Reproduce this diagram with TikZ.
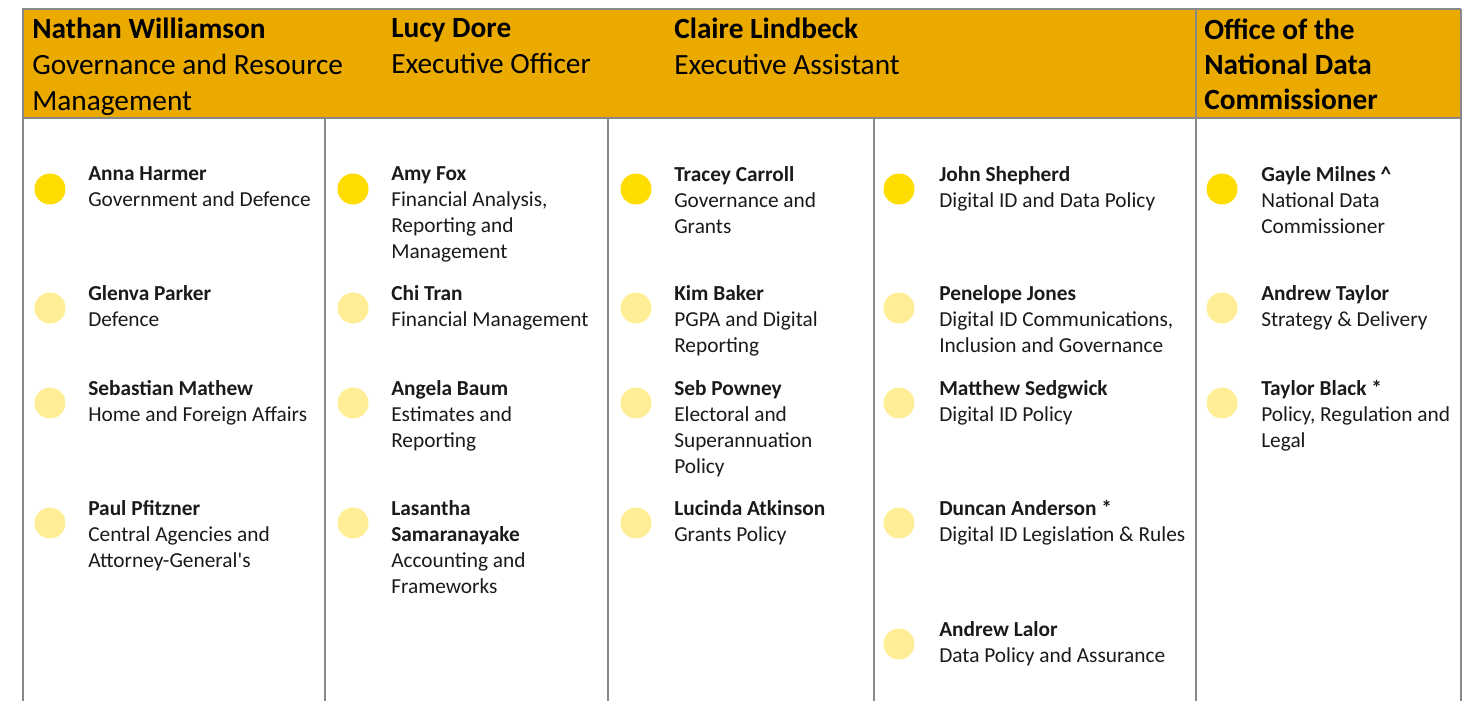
\documentclass[tikz,border=0pt]{standalone}
\usepackage{fontspec}
\setmainfont{Carlito}
\definecolor{hdrgold}{RGB}{234,170,0}
\definecolor{dotbright}{RGB}{255,221,0}
\definecolor{dotpale}{RGB}{255,238,150}
\definecolor{rulegray}{RGB}{136,136,136}
\definecolor{inkgray}{RGB}{26,26,26}

\begin{document}
\begin{tikzpicture}[x=0.75pt, y=-0.75pt,
    lead/.style={circle, fill=dotbright, minimum size=23.25pt, inner sep=0pt},
    staff/.style={circle, fill=dotpale, minimum size=23.25pt, inner sep=0pt},
    entry/.style={anchor=north west, align=left, inner sep=0pt, text=inkgray, font=\fontsize{16}{19.5}\selectfont},
    head/.style={anchor=north west, align=left, inner sep=0pt, font=\fontsize{22}{27}\selectfont},
    rule/.style={draw=rulegray, line width=1.1pt}]
  \useasboundingbox (0,0) rectangle (1471,701);

  % header band and frame
  \fill[hdrgold] (23,9) rectangle (1461,118);
  \draw[rule, line width=1.5pt] (23,701) -- (23,9) -- (1461,9);
  \draw[rule, line width=2pt] (1461,9) -- (1461,701);
  \draw[rule] (23,118) -- (1461,118);
  \draw[rule, line width=1.6pt] (1196,9) -- (1196,613);
  \draw[rule] (1196,613) -- (1196,701);
  \draw[rule] (325,118) -- (325,701);
  \draw[rule] (608,118) -- (608,701);
  \draw[rule] (874,118) -- (874,701);

  % header
  \node[head] (hdrNathan) at (32,18) {\textbf{Nathan Williamson}\\Governance and Resource\\Management};
  \node[head] (hdrLucy) at (391,18) {\textbf{Lucy Dore}\\Executive Officer};
  \node[head] (hdrClaire) at (674,18) {\textbf{Claire Lindbeck}\\Executive Assistant};
  \node[head, font=\fontsize{22}{26}\selectfont] (hdrOffice) at (1204,19) {\textbf{Office of the}\\\textbf{National Data}\\\textbf{Commissioner}};

  % column 1
  \node[lead] (dAnna) at (50,189) {};
  \node[entry] (anna) at (88,166) {\textbf{Anna Harmer}\\Government and Defence};
  \node[staff] (dGlenva) at (50,308) {};
  \node[entry] (glenva) at (88,285) {\textbf{Glenva Parker}\\Defence};
  \node[staff] (dSebastian) at (50,403) {};
  \node[entry] (sebastian) at (88,380) {\textbf{Sebastian Mathew}\\Home and Foreign Affairs};
  \node[staff] (dPaul) at (50,523) {};
  \node[entry] (paul) at (88,500) {\textbf{Paul Pfitzner}\\Central Agencies and\\Attorney-General\textquotesingle s};

  % column 2
  \node[lead] (dAmy) at (353,189) {};
  \node[entry] (amy) at (391,166) {\textbf{Amy Fox}\\Financial Analysis,\\Reporting and\\Management};
  \node[staff] (dChi) at (353,308) {};
  \node[entry] (chi) at (391,285) {\textbf{Chi Tran}\\Financial Management};
  \node[staff] (dAngela) at (353,403) {};
  \node[entry] (angela) at (391,380) {\textbf{Angela Baum}\\Estimates and\\Reporting};
  \node[staff] (dLasantha) at (353,523) {};
  \node[entry] (lasantha) at (391,500) {\textbf{Lasantha}\\\textbf{Samaranayake}\\Accounting and\\Frameworks};

  % column 3
  \node[lead] (dTracey) at (636,189) {};
  \node[entry] (tracey) at (674,166) {\textbf{Tracey Carroll}\\Governance and\\Grants};
  \node[staff] (dKim) at (636,308) {};
  \node[entry] (kim) at (674,285) {\textbf{Kim Baker}\\PGPA and Digital\\Reporting};
  \node[staff] (dSeb) at (636,403) {};
  \node[entry] (seb) at (674,380) {\textbf{Seb Powney}\\Electoral and\\Superannuation\\Policy};
  \node[staff] (dLucinda) at (636,523) {};
  \node[entry] (lucinda) at (674,500) {\textbf{Lucinda Atkinson}\\Grants Policy};

  % column 4
  \node[lead] (dJohn) at (899,189) {};
  \node[entry] (john) at (939,166) {\textbf{John Shepherd}\\Digital ID and Data Policy};
  \node[staff] (dPenelope) at (899,308) {};
  \node[entry] (penelope) at (939,285) {\textbf{Penelope Jones}\\Digital ID Communications,\\Inclusion and Governance};
  \node[staff] (dMatthew) at (899,403) {};
  \node[entry] (matthew) at (939,380) {\textbf{Matthew Sedgwick}\\Digital ID Policy};
  \node[staff] (dDuncan) at (899,523) {};
  \node[entry] (duncan) at (939,500) {\textbf{Duncan Anderson *}\\Digital ID Legislation \& Rules};
  \node[staff] (dLalor) at (899,644) {};
  \node[entry] (lalor) at (939,621) {\textbf{Andrew Lalor}\\Data Policy and Assurance};

  % column 5
  \node[lead] (dGayle) at (1222,189) {};
  \node[entry] (gayle) at (1261,166) {\textbf{Gayle Milnes \^{}}\\National Data\\Commissioner};
  \node[staff] (dTaylorA) at (1222,308) {};
  \node[entry] (taylorA) at (1261,285) {\textbf{Andrew Taylor}\\Strategy \& Delivery};
  \node[staff] (dBlack) at (1222,403) {};
  \node[entry] (black) at (1261,380) {\textbf{Taylor Black *}\\Policy, Regulation and\\Legal};
\end{tikzpicture}
\end{document}
